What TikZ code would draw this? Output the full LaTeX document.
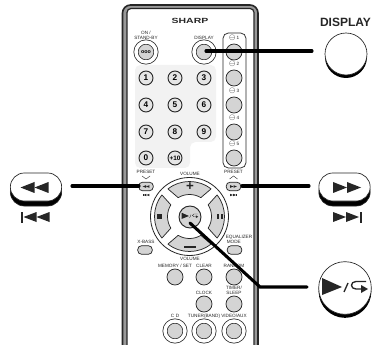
\documentclass[tikz,border=0pt]{standalone}
\usepackage{fontspec}
\setmainfont{Liberation Sans}
\usepackage{amssymb}
\usepackage{tikz}
\usetikzlibrary{positioning}
\definecolor{bandgrey}{gray}{0.6}
\definecolor{panelgrey}{gray}{0.95}
\definecolor{btngrey}{gray}{0.83}
\definecolor{numgrey}{gray}{0.9}
\definecolor{inkdark}{gray}{0.15}

\tikzset{
    fwd/.pic={
        \fill[inkdark] (-14,-5.5) -- (0,0) -- (-14,5.5) -- cycle;
        \fill[inkdark] (0,-5.5) -- (14,0) -- (0,5.5) -- cycle;
    },
    skip/.pic={
        \fill[inkdark] (-14.5,-5) -- (-1.5,0) -- (-14.5,5) -- cycle;
        \fill[inkdark] (-1.5,-5) -- (11.5,0) -- (-1.5,5) -- cycle;
        \fill[inkdark] (12,-5.5) rectangle (14.5,5.5);
    },
    playret/.pic={
        \fill[inkdark] (-23,-9) -- (-3,0) -- (-23,8) -- cycle;
        \draw[inkdark, line width=#1] (-1,5) -- (3,-4);
        \draw[inkdark, line width=#1] (21,-5.5) -- (11,-5.5) .. controls (5,-5.5) and (5,2) .. (11,2) -- (17,2);
        \fill[inkdark] (16,-2) -- (23,2) -- (16,6) -- cycle;
    }
}

\begin{document}
\begin{tikzpicture}[
    x=0.75pt, y=-0.75pt,
    lbl/.style={font=\fontsize{3.5}{3.8}\selectfont, inner sep=0, align=center, text=inkdark},
    btn/.style={circle, draw=inkdark, line width=0.55pt, fill=btngrey, minimum size=12pt, inner sep=0},
    numbtn/.style={btn, fill=numgrey, line width=0.7pt, minimum size=10.5pt, font=\fontsize{6.2}{7}\selectfont\bfseries},
    ringbtn/.style={btn, minimum size=15pt, double=white, double distance=2.6pt},
    pillbtn/.style={rectangle, rounded corners=3pt, draw=inkdark, line width=0.55pt, fill=btngrey, minimum width=11pt, minimum height=6.5pt, inner sep=0},
    bigpill/.style={rectangle, rounded corners=10.5pt, draw=inkdark, line width=0.5pt, minimum width=38.5pt, minimum height=21pt, inner sep=0, fill=white},
    bigshade/.style={bigpill, fill=black},
    leader/.style={line width=2.3pt, line cap=round, black}
]
\useasboundingbox (0,0) rectangle (374,345);
\clip (0,0) rectangle (374,345);

% remote body
\draw[inkdark, line width=1.2pt, fill=bandgrey, rounded corners=6pt] (122.5,5) rectangle (258,365);
\draw[inkdark, line width=0.9pt, fill=white, rounded corners=3pt] (127,8.5) rectangle (254,365);
\node[font=\fontsize{5.6}{6}\selectfont\bfseries, xscale=1.4, inner sep=0, text=inkdark] (brand) at (190,21) {SHARP};

% number pad and side column
\fill[panelgrey, rounded corners=4pt] (135,65) -- (216,65) -- (216,142) -- (190,142) -- (190,168) -- (135,168) -- cycle;
\draw[inkdark, line width=0.55pt, rounded corners=4pt] (223,33) rectangle (246,168);

\node[lbl] (standbylbl) at (146,35) {ON /\\STAND-BY};
\node[ringbtn, font=\fontsize{4}{5}\selectfont\bfseries] (standby) at (146,52) {ooo};
\node[lbl] (displaylbl) at (204,37.5) {DISPLAY};
\node[ringbtn] (display) at (204,52) {};

\node[numbtn] (n1) at (146,78) {1};
\node[numbtn] (n2) at (175,78) {2};
\node[numbtn] (n3) at (204,78) {3};
\node[numbtn] (n4) at (146,105) {4};
\node[numbtn] (n5) at (175,105) {5};
\node[numbtn] (n6) at (204,105) {6};
\node[numbtn] (n7) at (146,132) {7};
\node[numbtn] (n8) at (175,132) {8};
\node[numbtn] (n9) at (204,132) {9};
\node[numbtn] (n0) at (146,158) {0};
\node[numbtn, font=\fontsize{4.8}{5}\selectfont\bfseries] (n10) at (175,158) {+10};

\foreach \i/\y in {1/52, 2/78, 3/105, 4/132, 5/158} {
    \node[btn] (side\i) at (234,\y) {};
    \node[lbl, above=2pt of side\i] (sidelbl\i) {$\ominus$\,\i};
}

% preset keys
\node[lbl] (presetl) at (146,172) {PRESET};
\node[lbl] (presetr) at (233.5,172) {PRESET};
\draw[inkdark, line width=0.3pt] (142,176) -- (146,179) -- (150,176);
\draw[inkdark, line width=0.3pt] (229.5,179) -- (233.5,176) -- (237.5,179);
\node[pillbtn] (prevbtn) at (146,186.5) {};
\node[pillbtn] (nextbtn) at (233.5,186.5) {};
\pic[scale=0.24, xscale=-1] at (146,186.5) {fwd};
\pic[scale=0.24] at (233.5,186.5) {fwd};
\pic[scale=0.24, xscale=-1] at (146,195) {skip};
\pic[scale=0.24] at (233.5,195) {skip};

% volume ring
\node[lbl] (volup) at (190,174) {VOLUME};
\node[lbl] (voldown) at (190,259) {VOLUME};
\node[circle, draw=inkdark, line width=0.6pt, minimum size=58.5pt, inner sep=0, fill=white] (ring) at (189.5,216.5) {};
\begin{scope}[shift={(189.5,216.5)}]
\foreach \a/\s/\e in {90/38/31, 180/38/32, 270/38/31, 0/38/32}
    \draw[inkdark, line width=0.55pt, fill=btngrey, line join=round]
        (\a-\s:35) arc[start angle=\a-\s, end angle=\a+\s, radius=35]
        -- (\a+\e:22) arc[start angle=\a+\e, end angle=\a-\e, radius=22] -- cycle;
\end{scope}
\node[font=\fontsize{10}{10}\selectfont\bfseries, inner sep=0, text=inkdark] (plus) at (190,187) {+};
\fill[inkdark] (184,246) rectangle (196,248);
\fill[inkdark] (157,214) rectangle (162,219);
\fill[inkdark] (217,214) rectangle (219,219);
\fill[inkdark] (221,214) rectangle (223,219);
\node[circle, draw=inkdark, line width=0.7pt, fill=btngrey, minimum size=16.5pt, inner sep=0] (play) at (190,217) {};
\pic[scale=0.36] at (190,216) {playret=0.25pt};

% lower keys
\node[lbl] (xbasslbl) at (146,242) {X-BASS};
\node[pillbtn] (xbass) at (145,250) {};
\node[lbl] (eqlbl) at (239,237) {EQUALIZER};
\node[lbl, anchor=west] (modelbl) at (226.5,242) {MODE};
\node[pillbtn] (eqmode) at (234.5,250) {};

\node[lbl] (memlbl) at (175,266) {MEMORY / SET};
\node[lbl] (clearlbl) at (204,266) {CLEAR};
\node[lbl] (randlbl) at (234,266) {RANDOM};
\node[btn] (memory) at (175,277) {};
\node[btn] (clear) at (204,277) {};
\node[btn] (random) at (234,277) {};

\node[lbl] (clocklbl) at (204,292.5) {CLOCK};
\node[lbl] (timerlbl) at (234,290.5) {TIMER/\\SLEEP};
\node[btn] (clock) at (204,304) {};
\node[btn] (timer) at (234,304) {};

\node[lbl] (cdlbl) at (175,316) {C\,\,D};
\node[lbl] (tunerlbl) at (204,316) {TUNER(BAND)};
\node[lbl] (videolbl) at (234,316) {VIDEO/AUX};
\node[ringbtn] (cd) at (175,331) {};
\node[ringbtn] (tuner) at (204,331) {};
\node[ringbtn] (video) at (234,331) {};

% enlarged keys at the sides
\node[font=\fontsize{9}{9}\selectfont\bfseries, inner sep=0, text=inkdark] (bigdisplaylbl) at (345.5,22.5) {DISPLAY};
\node[circle, fill=black, minimum size=31.5pt, inner sep=0] (bigdisplayshade) at (346,57) {};
\node[circle, draw=inkdark, line width=0.5pt, fill=white, minimum size=31.5pt, inner sep=0] (bigdisplay) at (346,54) {};

\node[bigshade] (bigprevshade) at (36,192) {};
\node[bigpill] (bigprev) at (36,187) {};
\pic[xscale=-1] at (34.5,187.5) {fwd};
\pic[xscale=-1] at (35,217) {skip};

\node[bigshade] (bignextshade) at (344.5,192) {};
\node[bigpill] (bignext) at (344.5,187) {};
\pic at (347,187.5) {fwd};
\pic at (347.5,217) {skip};

\node[circle, fill=black, minimum size=39.5pt, inner sep=0] (bigplayshade) at (345,291.5) {};
\node[circle, draw=inkdark, line width=0.5pt, fill=white, minimum size=39.5pt, inner sep=0] (bigplay) at (345,288) {};
\pic at (345,287) {playret=1pt};

% leaders
\coordinate (displayend) at (312,51);
\coordinate (displaytip) at (206,51);
\coordinate (prevend) at (72,186);
\coordinate (prevtip) at (139,186);
\coordinate (nextend) at (309,186);
\coordinate (nexttip) at (242,186);
\coordinate (playend) at (307,287);
\coordinate (playcorner) at (260,287);
\coordinate (playtip) at (190,223);
\draw[leader] (displayend) -- (displaytip);
\draw[leader] (prevend) -- (prevtip);
\draw[leader] (nextend) -- (nexttip);
\draw[leader, line join=miter] (playend) -- (playcorner) -- (playtip);
\end{tikzpicture}
\end{document}
